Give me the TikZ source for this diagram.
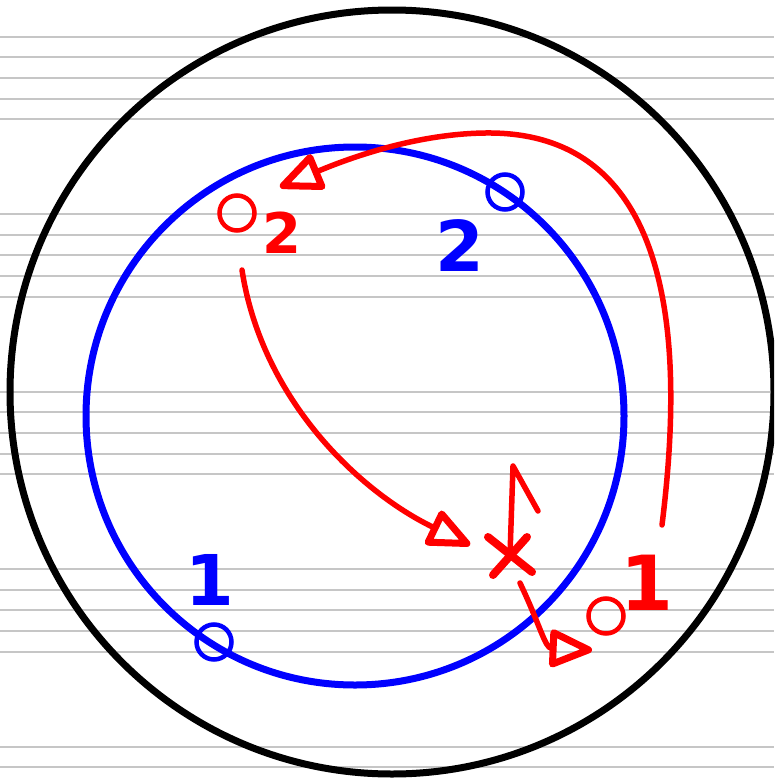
\documentclass[tikz,border=0pt]{standalone}
\usepackage{fontspec}
\setmainfont{DejaVu Sans}
\usetikzlibrary{arrows.meta}
\tikzset{
  ring/.style={draw=#1,circle,line width=4.5pt,minimum size=35pt,inner sep=0pt},
  digit/.style={text=#1,font=\bfseries\fontsize{70}{70}\selectfont,inner sep=0pt},
  redline/.style={draw=red,line width=5.5pt,line cap=round,line join=round},
  arrowhd/.style={-{Triangle[open,length=48pt,width=40pt,line width=7pt,round]}}
}
\begin{document}
\begin{tikzpicture}[x=1pt,y=-1pt]
\clip (0,0) rectangle (774,782);
\fill[white] (0,0) rectangle (774,782);
% ruled paper
\foreach \g in {0,...,4}
  \foreach \k in {0,...,4}
    \draw[gray!45,line width=2pt] (0,36.7+177.5*\g+20.6*\k) -- (774,36.7+177.5*\g+20.6*\k);

\draw[line width=7pt] (392,392) circle[radius=382];
\draw[blue,line width=7pt] (355,416) circle[radius=269];

\node[ring=blue] (b2) at (505,192) {};
\node[ring=blue] (b1) at (214,642) {};
\node[ring=red] (r2) at (237,213) {};
\node[ring=red] (r1) at (606,616) {};
\node[digit=blue] (n2) at (460,246) {2};
\node[digit=blue] (n1) at (210,580) {1};
\node[digit=red,font=\bfseries\fontsize{56}{56}\selectfont] (m2) at (282,233) {2};
\node[digit=red,font=\bfseries\fontsize{76}{76}\selectfont] (m1) at (647,583) {1};

% the cross and its arrow
\coordinate (cross) at (510,555);
\coordinate (top) at (513,466);
\draw[redline,line width=8pt] (cross) +(-22,-18) -- +(22,17);
\draw[redline,line width=8pt] (cross) +(17,-18) -- +(-17,20);
\draw[redline] (cross) -- (top) -- +(25,45);

\coordinate (s1) at (242,270);
\coordinate (s2) at (662,525);
\coordinate (s3) at (520,583);
\draw[redline,arrowhd] (s1) .. controls (262,400) and (360,492) .. (470,545);
\draw[redline,arrowhd] (s2) .. controls (680,380) and (690,130) .. (485,133) .. controls (410,134) and (340,162) .. (280,187);
\draw[redline,arrowhd] (s3) .. controls (540,625) and (545,648) .. (592,650);
\end{tikzpicture}
\end{document}
